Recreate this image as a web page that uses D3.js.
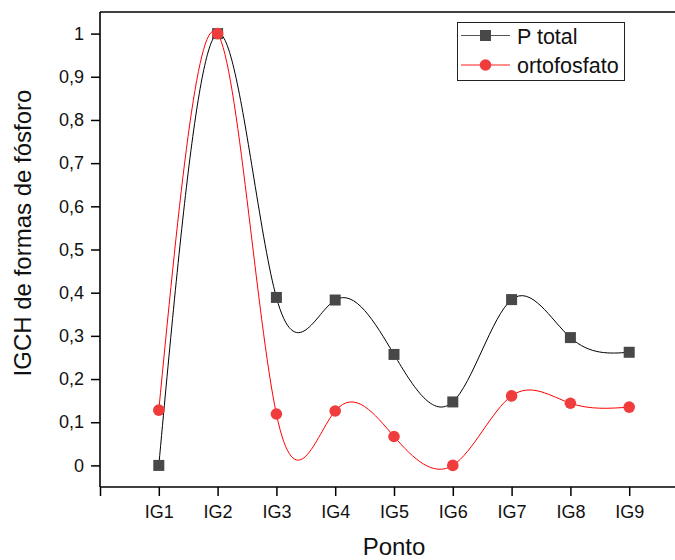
<!DOCTYPE html>
<html>
<head>
<meta charset="utf-8">
<script src="https://cdn.jsdelivr.net/npm/d3@7"></script>
<style>
  html, body { margin: 0; padding: 0; background: #fff; }
  svg { display: block; font-family: Arial, "Liberation Sans", sans-serif; }
</style>
</head>
<body>
<svg id="chart" width="675" height="560"></svg>
<script>
const categories = ["IG1", "IG2", "IG3", "IG4", "IG5", "IG6", "IG7", "IG8", "IG9"];
const pTotal = [0, 1, 0.389, 0.383, 0.257, 0.147, 0.384, 0.296, 0.262];
const ortofosfato = [0.128, 1, 0.119, 0.126, 0.067, 0.0, 0.161, 0.144, 0.135];
const yTicks = [0, 0.1, 0.2, 0.3, 0.4, 0.5, 0.6, 0.7, 0.8, 0.9, 1];
const seriesNames = ["P total", "ortofosfato"];

(function () {
const svg = d3.select("#chart");
const pLeft = 100, pRight = 688, pTop = 12, pBottom = 487;

const x = d3.scaleLinear().domain([0, categories.length + 1]).range([pLeft, pRight]);
const y = d3.scaleLinear().domain([-0.05, 1.05]).range([pBottom, pTop]);

const fmt = v => String(+v.toFixed(1)).replace(".", ",");

// Axes
const yAxis = d3.axisLeft(y).tickValues(yTicks).tickSize(9).tickPadding(7).tickFormat(fmt);
const gy = svg.append("g").attr("transform", `translate(${pLeft},0)`).call(yAxis);
const xTickVals = d3.range(0, categories.length + 1);
const xAxis = d3.axisBottom(x).tickValues(xTickVals).tickSize(9).tickPadding(9)
  .tickFormat(d => d >= 1 && d <= categories.length ? categories[d - 1] : "");
const gx = svg.append("g").attr("transform", `translate(0,${pBottom})`).call(xAxis);

[gx, gy].forEach(g => {
  g.select(".domain").attr("stroke", "#000").attr("stroke-width", 1.6);
  g.selectAll(".tick line").attr("stroke", "#000").attr("stroke-width", 1.5);
  g.selectAll(".tick text").attr("fill", "#111").style("font-size", "18px")
    .style("font-family", "Arial, 'Liberation Sans', sans-serif");
});
gy.select(".domain").attr("d", `M0,${pTop}V${pBottom}`);
gx.select(".domain").attr("d", `M${pLeft},0H${pRight}`);

// top frame line
svg.append("line").attr("x1", pLeft).attr("x2", pRight).attr("y1", pTop).attr("y2", pTop)
  .attr("stroke", "#000").attr("stroke-width", 1.6);

// axis titles
svg.append("text").attr("x", (pLeft + pRight) / 2).attr("y", 555)
  .attr("text-anchor", "middle").style("font-size", "24px").attr("fill", "#111").text("Ponto");
svg.append("text").attr("transform", "translate(31,233) rotate(-90)")
  .attr("text-anchor", "middle").style("font-size", "24px").attr("fill", "#111")
  .text("IGCH de formas de fósforo");

const line = d3.line().x((d, i) => x(i + 1)).y(d => y(d)).curve(d3.curveNatural);

svg.append("path").datum(pTotal).attr("d", line).attr("fill", "none")
  .attr("stroke", "#000").attr("stroke-width", 1);
svg.append("path").datum(ortofosfato).attr("d", line).attr("fill", "none")
  .attr("stroke", "#ff0000").attr("stroke-width", 1);

const sq = 11;
svg.append("g").selectAll("rect").data(pTotal).join("rect")
  .attr("x", (d, i) => x(i + 1) - sq / 2).attr("y", d => y(d) - sq / 2)
  .attr("width", sq).attr("height", sq).attr("fill", "#484848");
svg.append("g").selectAll("circle").data(ortofosfato).join("circle")
  .attr("cx", (d, i) => x(i + 1)).attr("cy", d => y(d)).attr("r", 5.8)
  .attr("fill", "#f03c3c");

// Legend
const lg = svg.append("g");
lg.append("rect").attr("x", 457.5).attr("y", 22.5).attr("width", 167).attr("height", 58)
  .attr("fill", "#fff").attr("stroke", "#222").attr("stroke-width", 1);
const legendRows = [
  { name: seriesNames[0], stroke: "#555", marker: "square", fill: "#484848", cy: 35.5 },
  { name: seriesNames[1], stroke: "#ff2020", marker: "circle", fill: "#f03c3c", cy: 65 }
];
legendRows.forEach(r => {
  lg.append("line").attr("x1", 461).attr("x2", 510).attr("y1", r.cy).attr("y2", r.cy)
    .attr("stroke", r.stroke).attr("stroke-width", 1.2);
  if (r.marker === "square") {
    lg.append("rect").attr("x", 485.5 - sq / 2).attr("y", r.cy - sq / 2)
      .attr("width", sq).attr("height", sq).attr("fill", r.fill);
  } else {
    lg.append("circle").attr("cx", 485.5).attr("cy", r.cy).attr("r", 5.8).attr("fill", r.fill);
  }
  lg.append("text").attr("x", 517).attr("y", r.cy + 8).style("font-size", "21.5px")
    .attr("fill", "#111").text(r.name);
});
})();
</script>
</body>
</html>
